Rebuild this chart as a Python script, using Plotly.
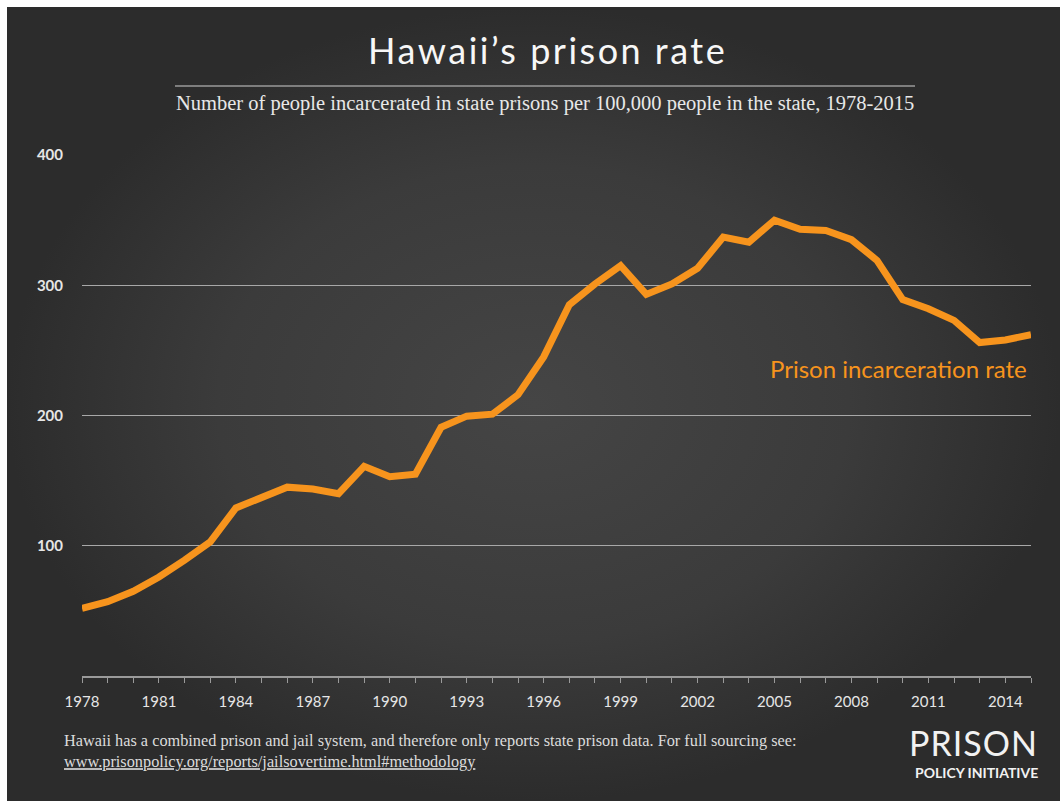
import plotly.graph_objects as go

years = list(range(1978, 2016))
rate = [52, 57, 65, 76, 89, 103, 129, 137, 145, 143.5, 140, 161, 153, 155,
        191, 199.5, 201, 216, 245, 285, 301, 315, 293, 301, 313, 337, 333,
        350, 343, 342, 335, 319, 289, 282, 273, 256, 258, 262]
y_ticks = [100, 200, 300, 400]
x_ticks = list(range(1978, 2015, 3))

W, H = 1060, 801
PX0, PX1 = 82, 1031      # plot area left/right in px
PY0, PY1 = 155, 676      # plot area top/bottom in px

fig = go.Figure()

# background panel with radial gradient (on full-page helper axes)
fig.add_trace(go.Scatter(
    x=[7, W, W, 7, 7], y=[7, 7, H, H, 7], mode="lines",
    line=dict(width=0), fill="toself",
    fillgradient=dict(type="radial",
                      colorscale=[[0, "#454545"], [0.6, "#3b3b3b"], [1, "#2c2c2c"]]),
    hoverinfo="skip", showlegend=False, xaxis="x", yaxis="y"))

fig.add_trace(go.Scatter(
    x=years, y=rate, mode="lines",
    line=dict(color="#F7941D", width=7, shape="linear"),
    showlegend=False, xaxis="x2", yaxis="y2",
    hovertemplate="%{x}: %{y}<extra></extra>"))

fig.update_layout(
    width=W, height=H,
    margin=dict(l=0, r=0, t=0, b=0, pad=0, autoexpand=False),
    showlegend=False,
    paper_bgcolor="white",
    plot_bgcolor="rgba(0,0,0,0)",
    xaxis=dict(domain=[0, 1], range=[0, W], visible=False, fixedrange=True,
               automargin=False),
    yaxis=dict(domain=[0, 1], range=[H, 0], visible=False, fixedrange=True,
               automargin=False),
    xaxis2=dict(
        domain=[PX0 / W, PX1 / W], anchor="y2", automargin=False,
        range=[1978, 2015], showgrid=False, zeroline=False,
        showline=True, linecolor="#9a9a9a", linewidth=2,
        ticks="outside", ticklen=5, tickcolor="#9a9a9a", tickwidth=1,
        tickvals=years,
        ticktext=[str(y) if y in x_ticks else "" for y in years],
        tickfont=dict(family="Lato", size=15, color="#e6e6e6"),
        ticklabelstandoff=6,
    ),
    yaxis2=dict(
        domain=[(H - PY1) / H, (H - PY0) / H], anchor="x2", automargin=False,
        range=[0, 400], tickvals=y_ticks,
        showgrid=True, gridcolor="#a8a8a8", gridwidth=1,
        zeroline=False, showline=False, ticks="",
        tickfont=dict(family="Lato", size=15, color="#e6e6e6", weight="bold"),
        ticklabelstandoff=18,
    ),
)

# title & subtitle
fig.add_annotation(text="<span style='letter-spacing:2.5px'>Hawaii’s prison rate</span>",
                   xref="paper", yref="paper",
                   x=547 / W, y=1 - 50 / H, showarrow=False,
                   font=dict(family="Lato", size=36, color="#f7f7f7"),
                   xanchor="center", yanchor="middle")
fig.add_shape(type="line", xref="paper", yref="paper",
              x0=175 / W, x1=915 / W, y0=1 - 86 / H, y1=1 - 86 / H,
              line=dict(color="#9a9a9a", width=1.5))
fig.add_annotation(
    text="Number of people incarcerated in state prisons per 100,000 people in the state, 1978-2015",
    xref="paper", yref="paper", x=545 / W, y=1 - 104 / H, showarrow=False,
    font=dict(family="Liberation Serif", size=20.5, color="#e8e8e8"),
    xanchor="center", yanchor="middle")

# series label
fig.add_annotation(text="Prison incarceration rate", xref="paper", yref="paper",
                   x=1029 / W, y=1 - 368 / H, showarrow=False,
                   font=dict(family="Lato", size=24, color="#F7941D"),
                   xanchor="right", yanchor="middle")

# footer
fig.add_annotation(
    text="Hawaii has a combined prison and jail system, and therefore only reports state prison data. For full sourcing see:<br>"
         "<u>www.prisonpolicy.org/reports/jailsovertime.html#methodology</u>",
    xref="paper", yref="paper", x=62 / W, y=1 - 751 / H, showarrow=False,
    font=dict(family="Liberation Serif", size=16.3, color="#dcdcdc"),
    xanchor="left", yanchor="middle", align="left")

# logo
fig.add_annotation(text="<span style='letter-spacing:1px'>PRISON</span>",
                   xref="paper", yref="paper",
                   x=1040 / W, y=1 - 742 / H, showarrow=False,
                   font=dict(family="Lato", size=34, color="#f2f2f2"),
                   xanchor="right", yanchor="middle")
fig.add_annotation(text="<b>POLICY INITIATIVE</b>", xref="paper", yref="paper",
                   x=1040 / W, y=1 - 772 / H, showarrow=False,
                   font=dict(family="Lato", size=14, color="#f2f2f2"),
                   xanchor="right", yanchor="middle")

fig.write_html("out.html",
               config={"displayModeBar": False},
               post_script="document.body.style.margin='0';document.body.style.overflow='hidden';")
